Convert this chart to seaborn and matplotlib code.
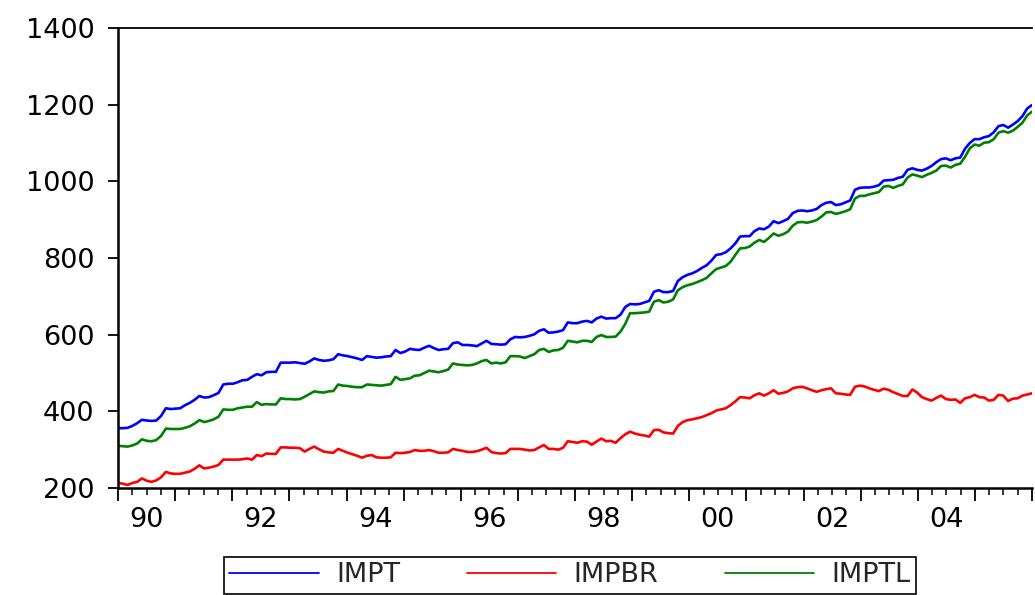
import numpy as np
import pandas as pd
import matplotlib
matplotlib.use("Agg")
import matplotlib.pyplot as plt
from matplotlib.lines import Line2D
from matplotlib.ticker import MultipleLocator, NullFormatter
import seaborn as sns

# ---------------- data (monthly, Jan 1990 - Dec 2005) ----------------
years = list(range(1990, 2006))

impt = [
    356, 356, 357, 362, 369, 378, 376, 375, 376, 388, 408, 406,
    407, 408, 416, 422, 430, 440, 436, 437, 442, 448, 470, 472,
    472, 476, 481, 482, 490, 497, 494, 502, 503, 503, 527, 527,
    527, 528, 526, 524, 530, 538, 534, 532, 533, 536, 549, 546,
    544, 541, 538, 534, 544, 542, 540, 541, 543, 544, 560, 552,
    556, 563, 561, 560, 566, 571, 565, 560, 562, 563, 578, 580,
    573, 573, 572, 570, 577, 584, 576, 575, 574, 575, 588, 594,
    593, 594, 597, 601, 610, 614, 605, 606, 608, 612, 632, 630,
    630, 634, 636, 632, 642, 647, 642, 643, 643, 652, 672, 680,
    679, 680, 684, 688, 712, 716, 711, 711, 714, 740, 750, 756,
    760, 766, 774, 781, 793, 808, 810, 815, 825, 838, 856, 857,
    857, 870, 877, 875, 882, 896, 891, 896, 902, 917, 923, 924,
    922, 924, 928, 938, 944, 946, 938, 940, 945, 950, 978, 983,
    984, 984, 986, 990, 1002, 1003, 1004, 1009, 1012, 1030, 1034, 1030,
    1028, 1033, 1040, 1050, 1058, 1060, 1055, 1060, 1062, 1085, 1100, 1110,
    1110, 1115, 1118, 1128, 1144, 1147, 1140, 1148, 1157, 1170, 1190, 1199,
]

impbr = [
    214, 211, 208, 213, 216, 225, 219, 216, 220, 228, 242, 238,
    237, 237, 240, 243, 250, 259, 251, 253, 256, 260, 274, 274,
    274, 274, 275, 277, 274, 286, 283, 290, 289, 289, 306, 306,
    305, 305, 304, 295, 302, 308, 301, 295, 293, 292, 302, 297,
    292, 288, 284, 279, 284, 286, 280, 279, 279, 280, 292, 291,
    292, 294, 299, 297, 297, 299, 296, 292, 292, 293, 302, 299,
    297, 294, 294, 296, 300, 305, 294, 291, 290, 291, 302, 302,
    302, 300, 298, 299, 306, 312, 302, 302, 300, 305, 322, 320,
    318, 322, 321, 313, 321, 329, 322, 323, 318, 330, 340, 347,
    342, 339, 337, 334, 351, 352, 345, 343, 342, 362, 372, 377,
    379, 382, 385, 390, 395, 402, 405, 408, 416, 426, 437, 436,
    434, 442, 447, 441, 447, 455, 446, 448, 452, 460, 463, 464,
    460, 455, 451, 455, 458, 460, 447, 446, 444, 443, 464, 467,
    465, 460, 456, 453, 459, 456, 450, 445, 440, 440, 457, 449,
    437, 432, 428, 435, 441, 432, 430, 431, 422, 434, 437, 443,
    437, 436, 428, 430, 443, 441, 427, 433, 434, 441, 444, 447,
]

imptl = [
    310, 309, 308, 311, 316, 327, 323, 322, 325, 336, 355, 354,
    354, 354, 357, 361, 368, 377, 372, 375, 379, 386, 405, 404,
    404, 408, 410, 412, 412, 424, 417, 419, 418, 418, 434, 432,
    432, 431, 432, 438, 445, 452, 450, 449, 452, 453, 470, 467,
    466, 464, 463, 463, 470, 469, 468, 467, 469, 471, 490, 482,
    484, 486, 493, 494, 500, 506, 504, 502, 505, 509, 525, 522,
    521, 520, 521, 525, 531, 534, 525, 527, 525, 528, 544, 544,
    543, 539, 544, 549, 560, 563, 555, 559, 560, 566, 584, 582,
    580, 584, 584, 581, 594, 599, 594, 594, 595, 608, 628, 656,
    656, 657, 658, 660, 686, 690, 684, 686, 692, 716, 724, 729,
    732, 737, 742, 748, 760, 771, 775, 779, 790, 808, 825, 826,
    830, 840, 847, 842, 852, 864, 858, 862, 869, 884, 893, 894,
    892, 895, 899, 908, 919, 920, 915, 918, 922, 927, 955, 962,
    962, 966, 969, 972, 986, 988, 983, 988, 992, 1010, 1018, 1015,
    1011, 1017, 1022, 1028, 1040, 1041, 1036, 1043, 1046, 1064, 1086, 1096,
    1093, 1101, 1102, 1110, 1127, 1131, 1127, 1132, 1142, 1153, 1172, 1182,
]

series_names = ["IMPT", "IMPBR", "IMPTL"]
series_colors = ["#0000ff", "#ff0000", "#008000"]
year_labels = ["90", "92", "94", "96", "98", "00", "02", "04"]
y_ticks = [200, 400, 600, 800, 1000, 1200, 1400]

# ---------------- build table ----------------
n = len(impt)
t = np.linspace(years[0], years[-1] + 1, n)
df = pd.DataFrame({
    "t": np.tile(t, 3),
    "value": impt + impbr + imptl,
    "series": np.repeat(series_names, n),
})
palette = dict(zip(series_names, series_colors))

# ---------------- style ----------------
sns.set_theme(style="white")
plt.rcParams["font.family"] = ["DejaVu Sans"]
FS = 19.5
LFS = 19.5

W, H = 1035, 595
fig = plt.figure(figsize=(W / 100, H / 100), dpi=100)
ax = fig.add_axes([118 / W, 1 - 488 / H, (1032 - 118) / W, (488 - 28) / H])

sns.lineplot(data=df, x="t", y="value", hue="series", palette=palette,
             linewidth=1.9, ax=ax, legend=False, sort=True)

ax.set_xlim(years[0], years[-1] + 1)
ax.set_ylim(y_ticks[0], y_ticks[-1])
ax.set_xlabel("")
ax.set_ylabel("")

# y axis
ax.set_yticks(y_ticks)
ax.set_yticklabels([str(v) for v in y_ticks])
ax.tick_params(axis="y", which="major", left=True, direction="out",
               length=7, width=1.3, labelsize=FS, pad=10, colors="black")

# x axis: year boundaries (major), quarters (minor)
ax.xaxis.set_major_locator(MultipleLocator(1))
ax.xaxis.set_minor_locator(MultipleLocator(0.25))
ax.xaxis.set_major_formatter(NullFormatter())
ax.tick_params(axis="x", which="major", bottom=True, direction="out",
               length=9, width=1.3, colors="black")
ax.tick_params(axis="x", which="minor", bottom=True, direction="out",
               length=5, width=1.1, colors="black")

label_years = [y for y in years if y % 2 == 0]
for yr, lab in zip(label_years, year_labels):
    ax.annotate(lab, xy=(yr + 0.5, 0), xycoords=ax.get_xaxis_transform(),
                xytext=(0, -14), textcoords="offset points",
                ha="center", va="top", fontsize=FS, color="black")

for side in ["left", "bottom", "top"]:
    ax.spines[side].set_visible(True)
    ax.spines[side].set_color("black")
ax.spines["left"].set_linewidth(1.8)
ax.spines["bottom"].set_linewidth(1.8)
ax.spines["top"].set_linewidth(1.3)
ax.spines["right"].set_visible(False)

# legend
handles = [Line2D([0], [0], color=c, lw=1.3) for c in series_colors]
leg = fig.legend(handles, series_names, ncol=3, loc="upper left",
                 bbox_to_anchor=(224 / W, 1 - 557 / H),
                 bbox_transform=fig.transFigure,
                 frameon=True, fancybox=False, shadow=False,
                 edgecolor="black", fontsize=LFS,
                 handlelength=3.3, handletextpad=0.65, columnspacing=2.45,
                 borderpad=0.2, borderaxespad=0)
leg.get_frame().set_linewidth(1.2)
leg.get_frame().set_facecolor("white")
leg.get_frame().set_alpha(1)

fig.savefig("out.png", dpi=100)
